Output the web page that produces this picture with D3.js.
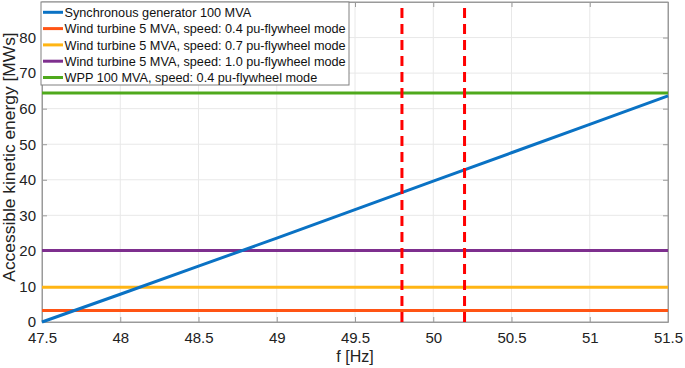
<!DOCTYPE html>
<html>
<head>
<meta charset="utf-8">
<script src="https://cdn.jsdelivr.net/npm/d3@7"></script>
<style>
  body { margin: 0; background: #fff; }
  text { font-family: "Liberation Sans", Arial, sans-serif; }
</style>
</head>
<body>
<div id="main"></div>
<script>
/* Define Size */
const width = 685, height = 368;
const margin = {top: 2, right: 17, bottom: 46, left: 42};

/* Define Data */
const xTicks = [47.5, 48, 48.5, 49, 49.5, 50, 50.5, 51, 51.5];
const yTicks = [0, 10, 20, 30, 40, 50, 60, 70, 80];
const freq = [47.5, 48, 48.5, 49, 49.5, 50, 50.5, 51, 51.5];
const syncGen = [0, 7.8, 15.7, 23.6, 31.6, 39.6, 47.6, 55.6, 63.6];
const seriesNames = [
  "Synchronous generator 100 MVA",
  "Wind turbine 5 MVA, speed: 0.4 pu-flywheel mode",
  "Wind turbine 5 MVA, speed: 0.7 pu-flywheel mode",
  "Wind turbine 5 MVA, speed: 1.0 pu-flywheel mode",
  "WPP 100 MVA, speed: 0.4 pu-flywheel mode"
];
const constValues = [3.2, 9.8, 20.1, 64.4]; // flat series
const limits = [49.8, 50.2];
const colors = ["#0A72C4", "#FF5414", "#FFB514", "#7E2F8E", "#4FA91C"];

const svg = d3.select("#main").append("svg").attr("width", width).attr("height", height);

const x = d3.scaleLinear().domain([47.5, 51.5]).range([margin.left, width - margin.right]);
const y = d3.scaleLinear().domain([0, 90]).range([height - margin.bottom, margin.top]);
const x0 = x.range()[0], x1 = x.range()[1], y0 = y.range()[0], y1 = y.range()[1];

/* grid */
svg.append("g").selectAll("line").data(xTicks.slice(1, -1)).enter().append("line")
  .attr("x1", d => x(d)).attr("x2", d => x(d)).attr("y1", y0).attr("y2", y1)
  .attr("stroke", "#e8e8e8").attr("stroke-width", 1);
svg.append("g").selectAll("line").data(yTicks.slice(1)).enter().append("line")
  .attr("x1", x0).attr("x2", x1).attr("y1", d => y(d)).attr("y2", d => y(d))
  .attr("stroke", "#e8e8e8").attr("stroke-width", 1);

/* axes (ticks inward) */
const ax = svg.append("g").attr("transform", `translate(0,${y0})`)
  .call(d3.axisBottom(x).tickValues(xTicks).tickSizeInner(-5).tickSizeOuter(0).tickPadding(10).tickFormat(d3.format("")));
const axTop = svg.append("g").attr("transform", `translate(0,${y1})`)
  .call(d3.axisTop(x).tickValues(xTicks).tickSizeInner(-5).tickSizeOuter(0).tickFormat(""));
const ay = svg.append("g").attr("transform", `translate(${x0},0)`)
  .call(d3.axisLeft(y).tickValues(yTicks).tickSizeInner(-5).tickSizeOuter(0).tickPadding(6));
const ayR = svg.append("g").attr("transform", `translate(${x1},0)`)
  .call(d3.axisRight(y).tickValues(yTicks).tickSizeInner(-5).tickSizeOuter(0).tickFormat(""));
[ax, axTop, ay, ayR].forEach(g => {
  g.select(".domain").attr("stroke", "#9a9a9a");
  g.selectAll(".tick line").attr("stroke", "#9a9a9a");
  g.selectAll("text").attr("font-size", 15).attr("fill", "#222")
    .style("font-family", "'Liberation Sans', Arial, sans-serif");
});
svg.append("rect").attr("x", x0).attr("y", y1).attr("width", x1 - x0).attr("height", y0 - y1)
  .attr("fill", "none").attr("stroke", "#9a9a9a");

/* flat lines */
const plot = svg.append("g");
plot.selectAll(".flat").data(constValues).enter().append("line")
  .attr("x1", x0).attr("x2", x1).attr("y1", d => y(d)).attr("y2", d => y(d))
  .attr("stroke", (d, i) => colors[i + 1]).attr("stroke-width", 3);

/* synchronous generator */
const line = d3.line().x((d, i) => x(freq[i])).y(d => y(d));
plot.append("path").attr("d", line(syncGen)).attr("fill", "none")
  .attr("stroke", colors[0]).attr("stroke-width", 3);

/* frequency limits */
plot.selectAll(".lim").data(limits).enter().append("line")
  .attr("x1", d => x(d)).attr("x2", d => x(d)).attr("y1", y0).attr("y2", y1)
  .attr("stroke", "#FF0000").attr("stroke-width", 3).attr("stroke-dasharray", "10,6");

/* legend */
const lg = svg.append("g").attr("transform", `translate(${x0 - 1},${y1})`);
lg.append("rect").attr("x", 0).attr("y", 0).attr("width", 308).attr("height", 83)
  .attr("fill", "#fff").attr("stroke", "#808080");
const items = lg.selectAll(".item").data(seriesNames).enter().append("g")
  .attr("transform", (d, i) => `translate(0,${10.3 + i * 16.3})`);
items.append("line").attr("x1", 2).attr("x2", 22).attr("y1", 0).attr("y2", 0)
  .attr("stroke", (d, i) => colors[i]).attr("stroke-width", 3);
items.append("text").attr("x", 23.5).attr("y", 4.6).attr("font-size", 12.7).attr("fill", "#111")
  .text(d => d);

/* axis titles */
svg.append("text").attr("x", (x0 + x1) / 2).attr("y", 362).attr("text-anchor", "middle")
  .attr("font-size", 16).attr("fill", "#222").text("f [Hz]");
svg.append("text").attr("transform", "translate(15,157) rotate(-90)")
  .attr("text-anchor", "middle").attr("font-size", 17.4).attr("fill", "#222")
  .text("Accessible kinetic energy [MWs]");
</script>
</body>
</html>
